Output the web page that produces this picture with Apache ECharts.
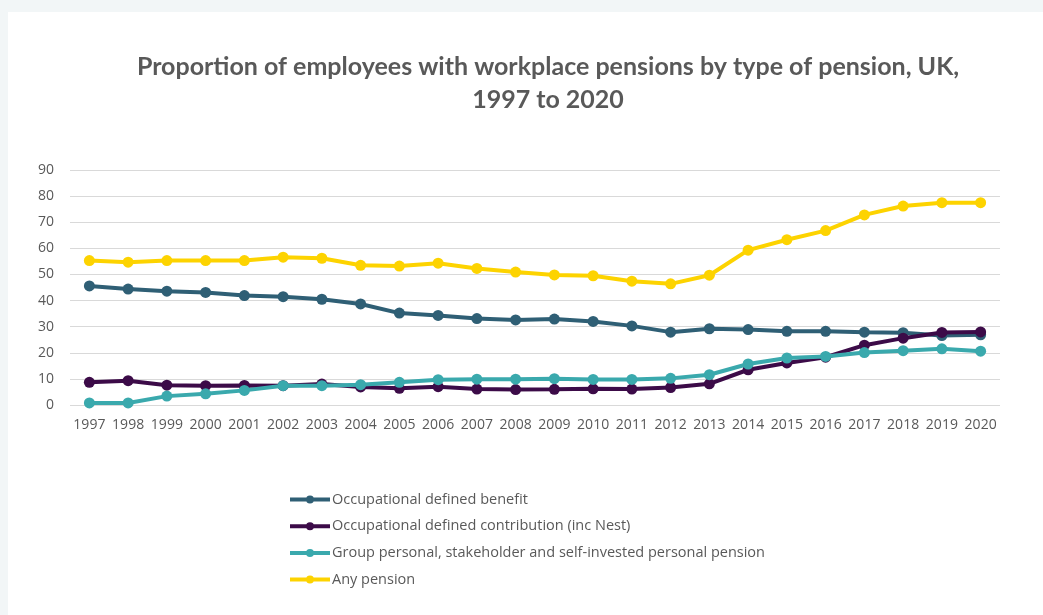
<!DOCTYPE html>
<html>
<head>
<meta charset="utf-8">
<script src="https://cdn.jsdelivr.net/npm/echarts@6/dist/echarts.min.js"></script>
<style>
  html, body { margin: 0; padding: 0; background: #f2f6f7; }
  #chart { width: 1043px; height: 615px; }
</style>
</head>
<body>
<div id="chart"></div>
<script>
// Survey years
const years = ['1997','1998','1999','2000','2001','2002','2003','2004','2005','2006','2007','2008',
  '2009','2010','2011','2012','2013','2014','2015','2016','2017','2018','2019','2020'];

// Percentage of employees, by pension type
const definedBenefit = [45.6, 44.4, 43.6, 43.1, 41.9, 41.5, 40.5, 38.7, 35.2, 34.3, 33.1, 32.6,
  32.9, 32.0, 30.3, 27.9, 29.2, 28.9, 28.2, 28.2, 27.9, 27.7, 26.6, 26.9];
const definedContribution = [8.7, 9.3, 7.6, 7.4, 7.5, 7.4, 8.0, 6.9, 6.4, 7.0, 6.1, 5.9,
  6.0, 6.2, 6.1, 6.7, 8.1, 13.5, 16.1, 18.3, 22.9, 25.6, 27.8, 28.0];
const groupPersonal = [0.8, 0.8, 3.4, 4.3, 5.6, 7.4, 7.4, 7.8, 8.7, 9.7, 9.9, 9.9,
  10.1, 9.8, 9.8, 10.2, 11.6, 15.7, 18.0, 18.6, 20.1, 20.8, 21.5, 20.6];
const anyPension = [55.3, 54.7, 55.3, 55.3, 55.3, 56.6, 56.2, 53.5, 53.2, 54.3, 52.3, 50.9,
  49.8, 49.5, 47.4, 46.4, 49.7, 59.3, 63.3, 66.8, 72.8, 76.2, 77.5, 77.5];

const seriesNames = [
  'Occupational defined benefit',
  'Occupational defined contribution (inc Nest)',
  'Group personal, stakeholder and self-invested personal pension',
  'Any pension'
];
const seriesData = [definedBenefit, definedContribution, groupPersonal, anyPension];
const seriesColors = ['#2f5f75', '#3c0b48', '#3aa9ad', '#fdd300'];

const yTicks = { min: 0, max: 90, interval: 10 };

const textColor = '#595959';
const font = '"Open Sans", "Liberation Sans", sans-serif';

// Legend key: a short line with a dot in the middle
const lineDotIcon = 'path://M0,2H40V6H0Z M24,4A4,4,0,1,1,16,4A4,4,0,1,1,24,4Z';

const chart = echarts.init(document.getElementById('chart'), null, { renderer: 'canvas' });

chart.setOption({
  animation: false,
  backgroundColor: 'transparent',
  graphic: [{
    type: 'rect',
    z: -10,
    silent: true,
    shape: { x: 8, y: 12, width: 1035, height: 603 },
    style: { fill: '#ffffff' }
  }],
  title: {
    text: 'Proportion of employees with workplace pensions by type of pension, UK,\n1997 to 2020',
    left: 543,
    top: 45,
    textAlign: 'center',
    textStyle: {
      fontFamily: 'Lato, "Open Sans", sans-serif',
      fontWeight: 'bold',
      fontSize: 25,
      lineHeight: 33,
      color: textColor
    }
  },
  grid: { left: 70, right: 43, top: 170, bottom: 210, containLabel: false },
  legend: {
    orient: 'vertical',
    left: 285,
    top: 487,
    itemWidth: 40,
    itemHeight: 8,
    itemGap: 11.7,
    textStyle: { fontFamily: font, fontSize: 14.5, color: textColor, padding: [0, 0, 0, -3] },
    data: seriesNames.map(n => ({ name: n, icon: lineDotIcon }))
  },
  xAxis: {
    type: 'category',
    data: years,
    boundaryGap: true,
    axisLine: { show: false },
    axisTick: { show: false },
    axisLabel: { interval: 0, fontFamily: font, fontSize: 14, color: textColor, margin: 13 }
  },
  yAxis: {
    type: 'value',
    min: yTicks.min,
    max: yTicks.max,
    interval: yTicks.interval,
    axisLine: { show: false },
    axisTick: { show: false },
    axisLabel: { fontFamily: font, fontSize: 14, color: textColor, margin: 16 },
    splitLine: { lineStyle: { color: '#d9d9d9', width: 1 } }
  },
  series: seriesNames.map((name, i) => ({
    name: name,
    type: 'line',
    data: seriesData[i],
    symbol: 'circle',
    symbolSize: 11,
    showSymbol: true,
    color: seriesColors[i],
    lineStyle: { width: 4, color: seriesColors[i] },
    itemStyle: { color: seriesColors[i] },
    z: 2 + i
  }))
});
</script>
</body>
</html>
